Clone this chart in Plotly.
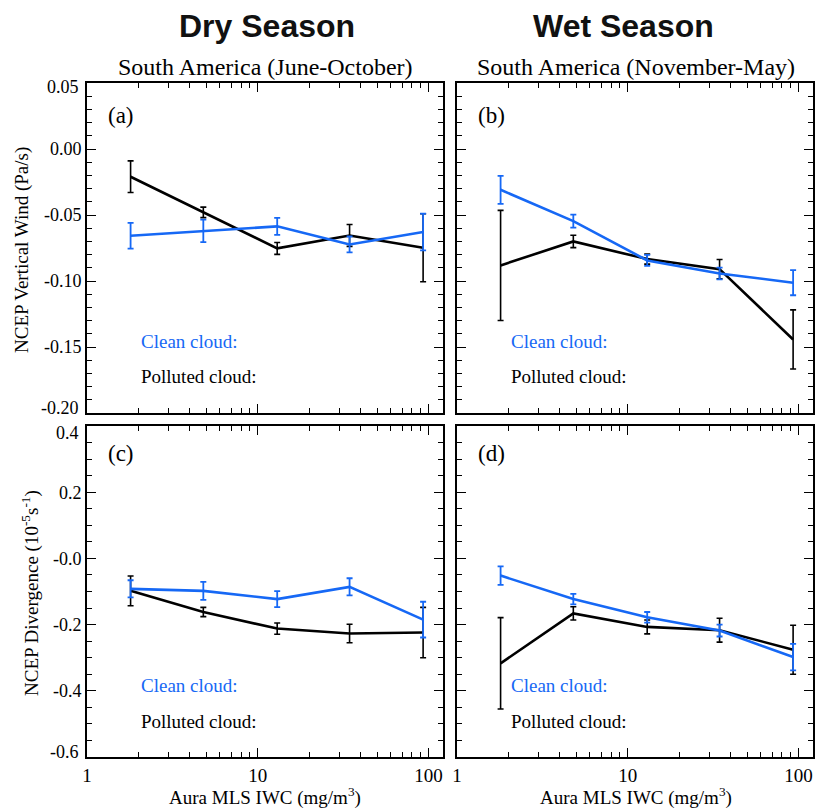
import plotly.graph_objects as go

# ---------------- data ----------------
iwc = [1.8, 4.8, 13.0, 34.5, 93.0]

a_clean = [-0.0657, -0.0620, -0.0586, -0.0723, -0.0629]
a_clean_err = [0.0097, 0.0085, 0.0064, 0.0060, 0.0139]
a_poll = [-0.0210, -0.0480, -0.0753, -0.0655, -0.0748]
a_poll_err = [0.0120, 0.0040, 0.0045, 0.0083, 0.0258]

b_clean = [-0.0309, -0.0546, -0.0844, -0.0943, -0.1013]
b_clean_err = [0.0106, 0.0049, 0.0042, 0.0045, 0.0095]
b_poll = [-0.0882, -0.0700, -0.0834, -0.0910, -0.1443]
b_poll_err = [0.0417, 0.0047, 0.0038, 0.0073, 0.0224]

c_clean = [-0.092, -0.098, -0.123, -0.086, -0.185]
c_clean_err = [0.026, 0.027, 0.024, 0.026, 0.054]
c_poll = [-0.098, -0.162, -0.212, -0.227, -0.224]
c_poll_err = [0.045, 0.014, 0.017, 0.028, 0.076]

d_clean = [-0.052, -0.123, -0.178, -0.218, -0.298]
d_clean_err = [0.028, 0.016, 0.016, 0.018, 0.040]
d_poll = [-0.317, -0.166, -0.207, -0.217, -0.276]
d_poll_err = [0.138, 0.020, 0.021, 0.036, 0.074]

x_tickvals = [1, 10, 100]
x_ticktext = ["1", "10", "100"]
w_tickvals = [0.05, 0.0, -0.05, -0.10, -0.15, -0.20]
w_ticktext = ["0.05", "0.00", "-0.05", "-0.10", "-0.15", "-0.20"]
d_tickvals = [0.4, 0.2, 0.0, -0.2, -0.4, -0.6]
d_ticktext = ["0.4", "0.2", "-0.0", "-0.2", "-0.4", "-0.6"]

panel_labels = ["(a)", "(b)", "(c)", "(d)"]
season_titles = ["Dry Season", "Wet Season"]
region_titles = ["South America (June-October)", "South America (November-May)"]

# ---------------- styling ----------------
W, H = 815, 808
BLUE = "rgb(22,104,245)"
BLACK = "black"
SERIF = "Liberation Serif, Times New Roman, serif"
SANS = "Liberation Sans, Arial, sans-serif"

def px(x):
    return x / W

def py(y):
    return 1 - y / H

fig = go.Figure()

panels = [
    (a_poll, a_poll_err, a_clean, a_clean_err, "x", "y"),
    (b_poll, b_poll_err, b_clean, b_clean_err, "x2", "y2"),
    (c_poll, c_poll_err, c_clean, c_clean_err, "x3", "y3"),
    (d_poll, d_poll_err, d_clean, d_clean_err, "x4", "y4"),
]
for poll, perr, clean, cerr, xa, ya in panels:
    fig.add_trace(go.Scatter(
        x=iwc, y=poll, mode="lines", xaxis=xa, yaxis=ya,
        line=dict(color=BLACK, width=2.6),
        error_y=dict(type="data", array=perr, visible=True, color=BLACK,
                     thickness=1.6, width=3),
        showlegend=False, hoverinfo="skip"))
    fig.add_trace(go.Scatter(
        x=iwc, y=clean, mode="lines", xaxis=xa, yaxis=ya,
        line=dict(color=BLUE, width=2.6),
        error_y=dict(type="data", array=cerr, visible=True, color=BLUE,
                     thickness=1.8, width=3),
        showlegend=False, hoverinfo="skip"))

col_dom = [[px(87), px(443)], [px(457), px(813)]]
row_dom = [[py(413), py(83)], [py(757), py(426)]]

def xaxis_cfg(col, row, anchor):
    return dict(
        type="log", range=[0, 2.085], domain=col_dom[col], anchor=anchor,
        tickvals=x_tickvals, ticktext=x_ticktext,
        showticklabels=(row == 1), automargin=False,
        ticks="inside", ticklen=9, tickwidth=1.3, tickcolor="black",
        minor=dict(ticks="inside", ticklen=5, tickwidth=1.1, tickcolor="black",
                   dtick="D1", showgrid=False),
        showline=True, linecolor="black", linewidth=1.8, mirror="allticks",
        showgrid=False, zeroline=False,
        tickfont=dict(family=SERIF, size=19, color="black"),
    )

def yaxis_cfg(col, row, anchor):
    if row == 0:
        rng, tv, tt, mdt = [-0.20, 0.05], w_tickvals, w_ticktext, 0.01
    else:
        rng, tv, tt, mdt = [-0.6, 0.4], d_tickvals, d_ticktext, 0.05
    # the end ticks sit on the frame; their labels are drawn as annotations
    # (nudged inward, as in the original)
    return dict(
        range=rng, domain=row_dom[row], anchor=anchor,
        tickvals=list(tv[1:-1]), ticktext=list(tt[1:-1]),
        showticklabels=(col == 0), automargin=False,
        ticks="inside", ticklen=9, tickwidth=1.3, tickcolor="black",
        minor=dict(ticks="inside", ticklen=5, tickwidth=1.1, tickcolor="black",
                   dtick=mdt, tick0=0, showgrid=False),
        showline=True, linecolor="black", linewidth=1.8, mirror="allticks",
        showgrid=False, zeroline=False,
        tickfont=dict(family=SERIF, size=18, color="black"),
    )

fig.update_layout(
    xaxis=xaxis_cfg(0, 0, "y"), yaxis=yaxis_cfg(0, 0, "x"),
    xaxis2=xaxis_cfg(1, 0, "y2"), yaxis2=yaxis_cfg(1, 0, "x2"),
    xaxis3=xaxis_cfg(0, 1, "y3"), yaxis3=yaxis_cfg(0, 1, "x3"),
    xaxis4=xaxis_cfg(1, 1, "y4"), yaxis4=yaxis_cfg(1, 1, "x4"),
)

ann = []
# end-of-axis tick labels, nudged inside the axis span
end_labels = [
    (w_ticktext[0], "y", w_tickvals[0], 4),
    (w_ticktext[-1], "y", w_tickvals[-1], -5),
    (d_ticktext[0], "y3", d_tickvals[0], 7),
    (d_ticktext[-1], "y3", d_tickvals[-1], -5),
]
for txt, yref, yv, shift in end_labels:
    ann.append(dict(text=txt, x=px(81), y=yv, xref="paper", yref=yref,
                    xanchor="right", yanchor="middle", yshift=-shift, showarrow=False,
                    font=dict(family=SERIF, size=18, color="black")))
# season titles
for cx, t in zip([267, 623], season_titles):
    ann.append(dict(text="<b>%s</b>" % t, x=px(cx), y=py(26), xref="paper", yref="paper",
                    xanchor="center", yanchor="middle", showarrow=False,
                    font=dict(family=SANS, size=32, color="#111")))
for cx, t in zip([265.5, 635.5], region_titles):
    ann.append(dict(text=t, x=px(cx), y=py(67), xref="paper", yref="paper",
                    xanchor="center", yanchor="middle", showarrow=False,
                    font=dict(family=SERIF, size=24, color="black")))
# panel labels
lab_pos = [(121, 115), (491.7, 115), (121, 453), (491.7, 453)]
for (lx, ly), t in zip(lab_pos, panel_labels):
    ann.append(dict(text=t, x=px(lx), y=py(ly), xref="paper", yref="paper",
                    xanchor="center", yanchor="middle", showarrow=False,
                    font=dict(family=SERIF, size=23, color="black")))
# in-panel legend text
leg_pos = [(139, 342, 376), (509, 342, 376), (139, 685, 721), (509, 685, 721)]
for lx, y1, y2 in leg_pos:
    ann.append(dict(text="Clean cloud:", x=px(lx), y=py(y1), xref="paper", yref="paper",
                    xanchor="left", yanchor="middle", showarrow=False,
                    font=dict(family=SERIF, size=19, color=BLUE)))
    ann.append(dict(text="Polluted cloud:", x=px(lx), y=py(y2), xref="paper", yref="paper",
                    xanchor="left", yanchor="middle", showarrow=False,
                    font=dict(family=SERIF, size=19, color="black")))
# axis titles
ann.append(dict(text="NCEP Vertical Wind (Pa/s)", x=px(22), y=py(250), xref="paper", yref="paper",
                xanchor="center", yanchor="middle", showarrow=False, textangle=-90,
                font=dict(family=SERIF, size=19, color="black")))
ann.append(dict(text="NCEP Divergence (10<sup>-5</sup>s<sup>-1</sup>)", x=px(30), y=py(593),
                xref="paper", yref="paper",
                xanchor="center", yanchor="middle", showarrow=False, textangle=-90,
                font=dict(family=SERIF, size=19, color="black")))
for cx in [265, 635.5]:
    ann.append(dict(text="Aura MLS IWC (mg/m<sup>3</sup>)", x=px(cx), y=py(796),
                    xref="paper", yref="paper",
                    xanchor="center", yanchor="middle", showarrow=False,
                    font=dict(family=SERIF, size=19, color="black")))

fig.update_layout(
    annotations=ann,
    width=W, height=H,
    margin=dict(l=0, r=0, t=0, b=0, autoexpand=False),
    paper_bgcolor="white", plot_bgcolor="white",
    showlegend=False,
)

fig.write_html(
    "out.html",
    config={"displayModeBar": False},
    post_script=("document.body.style.margin='0px';"
                 "document.documentElement.style.overflow='hidden';"
                 "document.body.style.overflow='hidden';"),
)
